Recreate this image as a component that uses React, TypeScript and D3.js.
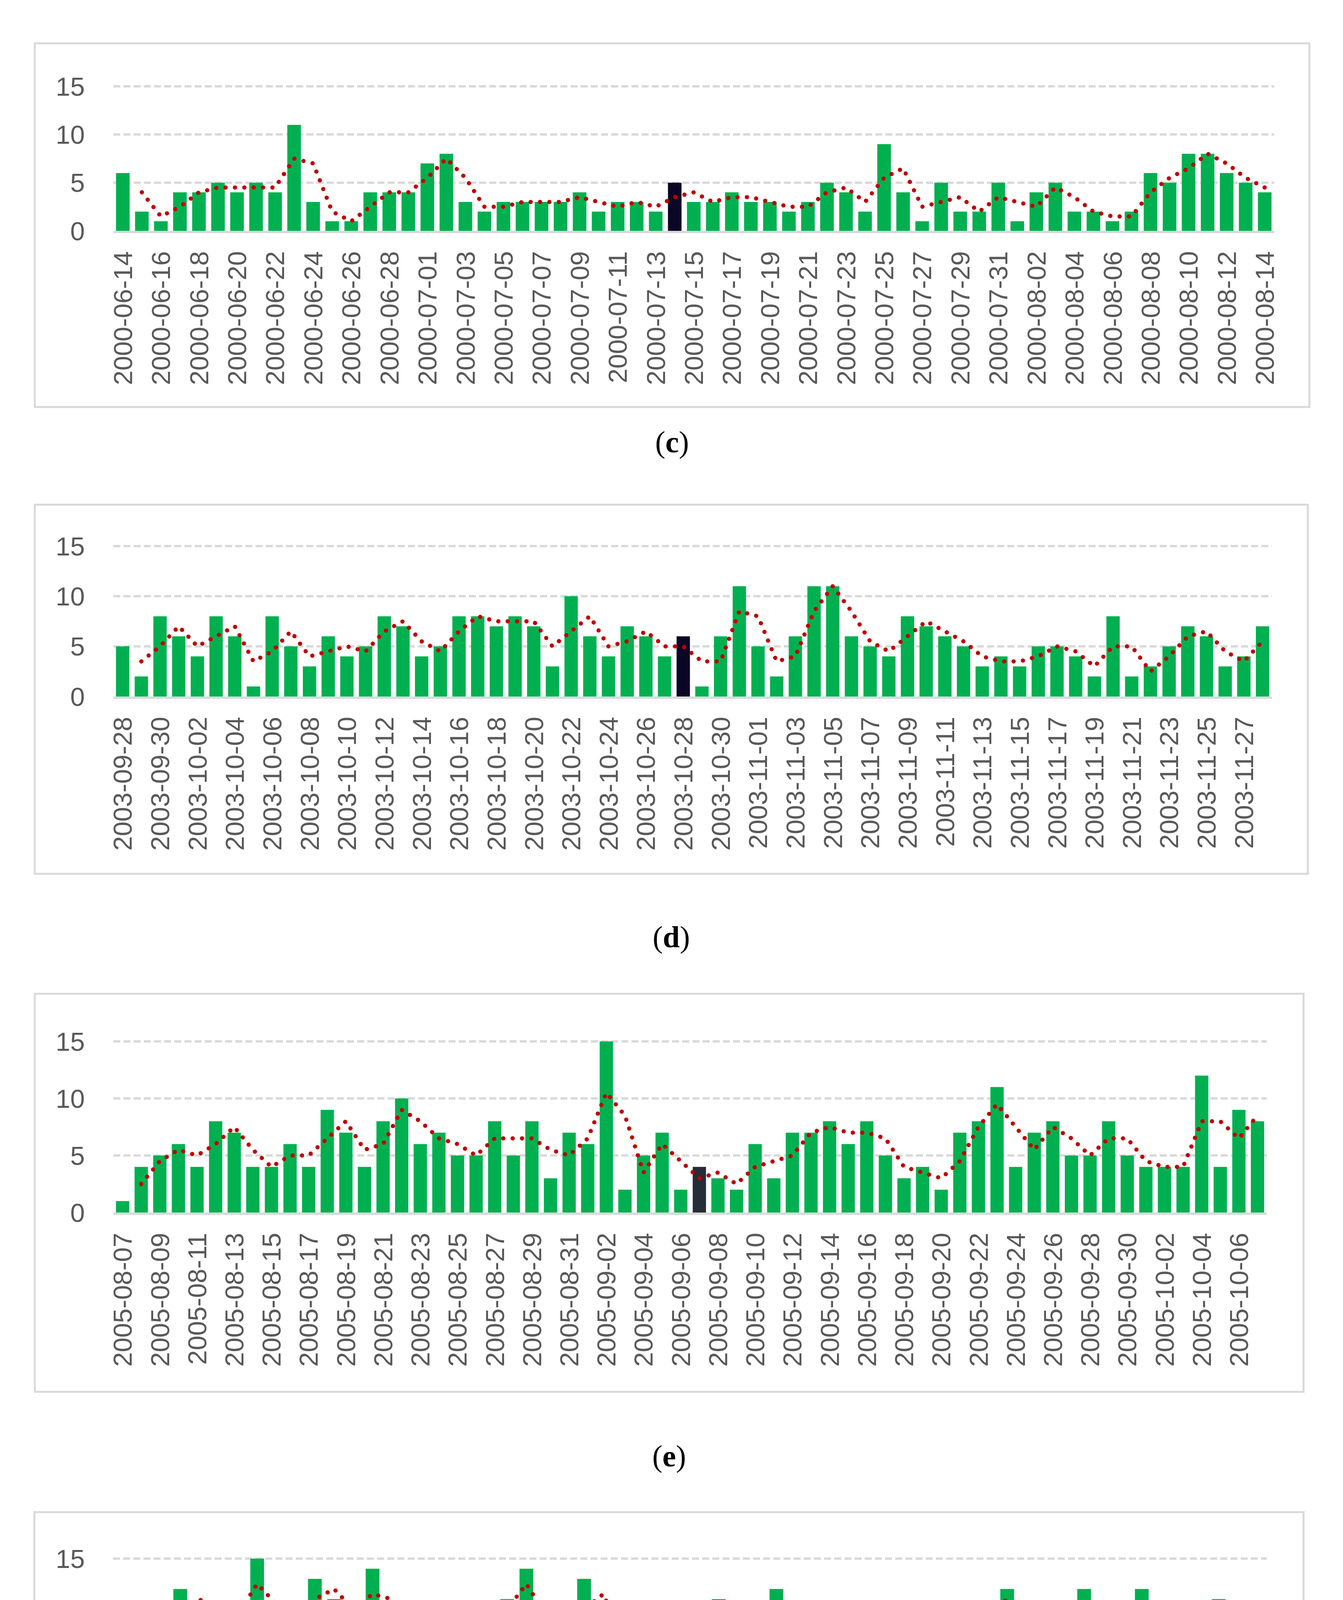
import React from 'react';
import * as d3 from 'd3';

const WIDTH = 3437;
const HEIGHT = 5068;

// daily counts
const valuesC = [
  6, 2, 1, 4, 4, 5, 4, 5, 4, 11, 3, 1, 1, 4, 4, 4, 7, 8, 3, 2, 3, 3, 3, 3, 4, 2, 3, 3, 2, 5,
  3, 3, 4, 3, 3, 2, 3, 5, 4, 2, 9, 4, 1, 5, 2, 2, 5, 1, 4, 5, 2, 2, 1, 2, 6, 5, 8, 8, 6, 5, 4
];
const valuesD = [
  5, 2, 8, 6, 4, 8, 6, 1, 8, 5, 3, 6, 4, 5, 8, 7, 4, 5, 8, 8, 7, 8, 7, 3, 10, 6, 4, 7, 6, 4, 6,
  1, 6, 11, 5, 2, 6, 11, 11, 6, 5, 4, 8, 7, 6, 5, 3, 4, 3, 5, 5, 4, 2, 8, 2, 3, 5, 7, 6, 3, 4, 7
];
const valuesE = [
  1, 4, 5, 6, 4, 8, 7, 4, 4, 6, 4, 9, 7, 4, 8, 10, 6, 7, 5, 5, 8, 5, 8, 3, 7, 6, 15, 2, 5, 7, 2, 4,
  3, 2, 6, 3, 7, 7, 8, 6, 8, 5, 3, 4, 2, 7, 8, 11, 4, 7, 8, 5, 5, 8, 5, 4, 4, 4, 12, 4, 9, 8
];
const valuesF = [
  10, 9, 7, 12, 10, 9, 10, 15, 6, 9, 13, 11, 9, 14, 8, 9, 7, 3, 9, 9, 11, 14, 5, 7, 13, 10, 4, 10, 9, 6,
  6, 11, 4, 7, 12, 5, 9, 10, 5, 7, 9, 9, 10, 10, 9, 10, 12, 7, 6, 8, 12, 9, 5, 12, 6, 5, 5, 11, 9, 5
];

const yTicks = [0, 5, 10, 15];

const fmt = d3.timeFormat('%Y-%m-%d');
const parse = d3.timeParse('%Y-%m-%d');
const dayRange = (first: string, last: string, skip: string[] = []) =>
  d3.timeDay
    .range(parse(first) as Date, d3.timeDay.offset(parse(last) as Date, 1))
    .map(fmt)
    .filter(d => !skip.includes(d));

const datesC = dayRange('2000-06-14', '2000-08-14', ['2000-06-30']);
const datesD = dayRange('2003-09-28', '2003-11-28');
const datesE = dayRange('2005-08-07', '2005-10-07');
const datesF = dayRange('2015-02-17', '2015-04-17');

// the highlighted day of each panel
const darkDays = ['2000-07-14', '2003-10-28', '2005-09-07', '2015-03-17'];
const captions = ['c', 'd', 'e', 'f'];

interface PanelLayout {
  box: [number, number, number, number]; // left, top, right, bottom
  plot: [number, number];
  y0: number;
  y15: number;
  captionY: number;
  darkColor: string;
}

const layouts: PanelLayout[] = [
  { box: [89, 111, 3351, 1042], plot: [290, 3261], y0: 591, y15: 221, captionY: 1158, darkColor: '#0c0626' },
  { box: [89, 1292, 3347, 2237], plot: [290, 3255], y0: 1783, y15: 1398, captionY: 2425, darkColor: '#0c0626' },
  { box: [89, 2544, 3336, 3563], plot: [290, 3242], y0: 3104, y15: 2666, captionY: 3754, darkColor: '#252d38' },
  { box: [88, 3871, 3336, 4832], plot: [289, 3242], y0: 4379, y15: 3990, captionY: 5015, darkColor: '#0c0626' }
];

const GREEN = '#00b050';
const GRID = '#d9d9d9';
const TEXT = '#595959';
const FONT = "'Liberation Sans', Arial, sans-serif";

function Panel(props: { dates: string[]; values: number[]; dark: string; caption: string; layout: PanelLayout }) {
  const { dates, values, dark, caption, layout } = props;
  const [bl, bt, br, bb] = layout.box;

  const x = d3
    .scaleBand()
    .domain(dates)
    .range(layout.plot)
    .paddingInner(0.4 / 1.4)
    .paddingOuter(0.2 / 1.4);
  const y = d3.scaleLinear().domain([0, 15]).range([layout.y0, layout.y15]);
  const bw = x.bandwidth();

  // 2-period moving average trendline
  const avg = values.slice(1).map((v, i) => ({ d: dates[i + 1], v: (v + values[i]) / 2 }));
  const line = d3
    .line<{ d: string; v: number }>()
    .x(p => (x(p.d) || 0) + bw / 2)
    .y(p => y(p.v));

  return (
    <g>
      <rect x={bl} y={bt} width={br - bl} height={bb - bt} fill="#fff" stroke={GRID} strokeWidth={5} />
      {yTicks.slice(1).map(t => (
        <line
          key={t}
          x1={layout.plot[0]}
          x2={layout.plot[1]}
          y1={y(t)}
          y2={y(t)}
          stroke={GRID}
          strokeWidth={6}
          strokeDasharray="18 8"
        />
      ))}
      {yTicks.map(t => (
        <text
          key={t}
          x={217}
          y={y(t)}
          textAnchor="end"
          dominantBaseline="central"
          fontFamily={FONT}
          fontSize={67}
          fill={TEXT}
        >
          {t}
        </text>
      ))}
      {dates.map((d, i) => (
        <rect
          key={d}
          x={x(d)}
          y={y(values[i])}
          width={bw}
          height={y(0) - y(values[i])}
          fill={d === dark ? layout.darkColor : GREEN}
        />
      ))}
      <line x1={layout.plot[0]} x2={layout.plot[1]} y1={y(0) + 3} y2={y(0) + 3} stroke={GRID} strokeWidth={6} />
      <path
        d={line(avg) || ''}
        fill="none"
        stroke="#c00000"
        strokeWidth={11}
        strokeLinecap="round"
        strokeDasharray="0 24"
      />
      {dates
        .filter((_, i) => i % 2 === 0)
        .map(d => {
          const cx = (x(d) || 0) + bw / 2;
          const ty = layout.y0 + 52;
          return (
            <text
              key={d}
              transform={`translate(${cx},${ty}) rotate(-90)`}
              textAnchor="end"
              dominantBaseline="central"
              fontFamily={FONT}
              fontSize={67}
              fill={TEXT}
            >
              {d}
            </text>
          );
        })}
      <text
        x={(bl + br) / 2}
        y={layout.captionY}
        textAnchor="middle"
        fontFamily="'Liberation Serif', 'Times New Roman', serif"
        fontSize={78}
        fill="#000"
      >
        (<tspan fontWeight="bold">{caption}</tspan>)
      </text>
    </g>
  );
}

export default function App() {
  const dateSets = [datesC, datesD, datesE, datesF];
  const valueSets = [valuesC, valuesD, valuesE, valuesF];
  return (
    <svg
      width={WIDTH}
      height={HEIGHT}
      viewBox={`0 0 ${WIDTH} ${HEIGHT}`}
      style={{ display: 'block', margin: -8, background: '#fff' }}
    >
      <rect width={WIDTH} height={HEIGHT} fill="#fff" />
      {layouts.map((l, i) => (
        <Panel
          key={captions[i]}
          dates={dateSets[i]}
          values={valueSets[i]}
          dark={darkDays[i]}
          caption={captions[i]}
          layout={l}
        />
      ))}
    </svg>
  );
}
